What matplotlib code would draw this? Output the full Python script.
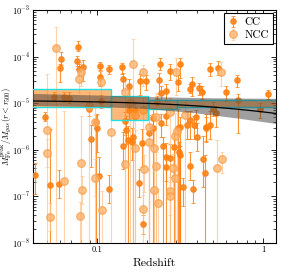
import numpy as np
import matplotlib
matplotlib.use("Agg")
import matplotlib.pyplot as plt
from matplotlib.patches import Rectangle

plt.rcParams['mathtext.fontset'] = 'cm'
plt.rcParams['font.family'] = 'serif'
plt.rcParams['font.serif'] = ['cmr10', 'DejaVu Serif']
plt.rcParams['axes.formatter.use_mathtext'] = True

# ---------------- data ----------------
cc_z = [0.0604, 0.0596, 0.0768, 0.0754, 0.0779, 0.0823, 0.1047, 0.1038, 0.1181, 0.1415,
        0.1435, 0.1566, 0.1825, 0.1967, 0.0548, 0.0632, 0.0675, 0.1062, 0.0891, 0.0484,
        0.0982, 0.1476, 0.1566, 0.168, 0.2178, 0.239, 0.2367, 0.2424, 0.261, 0.2746,
        0.3182, 0.3082, 0.3627, 0.3759, 0.432, 0.4088, 0.4808, 0.5395, 0.6003, 0.6997,
        1.081, 0.959, 0.7096, 0.2312, 0.5012, 0.5205, 0.4567, 0.3627, 0.3155, 0.26,
        0.2443, 0.3975, 0.3834, 0.0518, 0.0421, 0.059, 0.0924, 0.1, 0.1028, 0.1177,
        0.1435, 0.1502, 0.1538, 0.162, 0.1649, 0.1876, 0.2051, 0.2178, 0.1793, 0.1895,
        0.2502, 0.262, 0.277, 0.262, 0.2904, 0.3069, 0.3139, 0.3182, 0.3304, 0.3627,
        0.3796, 0.403, 0.4362, 0.4467, 0.4567, 0.4787, 0.3507]
cc_y = [8.88e-5, 5.61e-5, 1.63e-4, 8.17e-5, 5.34e-5, 5.89e-5, 6.19e-5, 3.71e-5, 5.34e-5, 5.89e-5,
        3.36e-5, 2.31e-5, 2.99e-5, 2.99e-5, 1.38e-5, 1.36e-5, 1.31e-5, 1.13e-5, 7.51e-6, 5.13e-6,
        3.89e-6, 4.15e-6, 7.14e-6, 7.14e-6, 4.89e-6, 6.94e-5, 3.15e-5, 1.63e-5, 1.80e-5, 4.98e-5,
        6.94e-5, 2.85e-5, 2.05e-5, 2.58e-5, 1.74e-5, 2.09e-5, 5.5e-5, 5.61e-5, 1.74e-5, 3.10e-5,
        1.55e-5, 7.51e-6, 1.17e-5, 1.13e-5, 7.4e-6, 6.25e-6, 3.13e-6, 4.36e-6, 3.13e-6, 5.31e-6,
        3.71e-6, 5.13e-6, 3.41e-6, 1.76e-7, 2.88e-7, 1.85e-7, 1.68e-6, 2.89e-6, 2.78e-7, 1.44e-7,
        1.22e-6, 2.66e-6, 1.62e-6, 1.49e-6, 1.91e-6, 1.38e-6, 2.26e-6, 2.98e-6, 1.97e-7, 2.52e-8,
        1.21e-6, 6.9e-7, 6.57e-7, 4.34e-7, 1.13e-6, 2.98e-6, 9.1e-7, 7.73e-7, 1.57e-7, 4.49e-7,
        1.42e-7, 1.85e-6, 6.25e-7, 3.13e-7, 2.98e-6, 3.41e-6, 3.41e-6]
# errors in dex (upper, lower); lower of 5 means the bar reaches the bottom
cc_up = [0.14, 0.1, 0.13, 0.1, 0.12, 0.15, 0.1, 0.15, 0.1, 0.1,
         0.12, 0.15, 0.15, 0.12, 0.1, 0.1, 0.12, 0.12, 0.15, 0.1,
         0.15, 0.2, 0.15, 0.15, 0.2, 0.12, 0.15, 0.15, 0.15, 0.15,
         0.12, 0.15, 0.1, 0.15, 0.12, 0.12, 0.12, 0.15, 0.12, 0.12,
         0.1, 0.12, 0.12, 0.1, 0.15, 0.15, 0.2, 0.2, 0.2, 0.15,
         0.2, 0.15, 0.2, 1.2, 0.25, 0.3, 0.3, 0.3, 0.4, 0.3,
         0.3, 0.3, 0.3, 0.3, 0.4, 0.3, 0.4, 0.3, 0.3, 0.2,
         0.2, 0.3, 0.3, 0.2, 0.3, 0.4, 0.2, 0.2, 0.2, 0.3,
         0.2, 0.3, 0.5, 0.4, 0.3, 0.3, 0.3]
cc_lo = [0.12, 0.3, 0.1, 0.12, 0.12, 0.3, 0.1, 0.2, 0.1, 0.15,
         0.25, 0.2, 0.3, 0.2, 0.1, 0.1, 0.12, 0.15, 0.15, 0.1,
         5, 0.3, 0.2, 0.2, 5, 0.12, 0.3, 0.15, 0.2, 0.2,
         0.3, 0.2, 0.1, 0.25, 0.15, 0.15, 0.15, 0.15, 0.2, 0.15,
         0.1, 0.2, 0.7, 0.1, 0.15, 0.3, 0.3, 0.4, 5, 0.2,
         0.3, 0.25, 0.3, 5, 0.4, 0.3, 0.6, 0.5, 5, 0.3,
         0.5, 0.3, 5, 0.4, 5, 0.5, 5, 0.4, 0.3, 0.2,
         5, 5, 5, 0.3, 5, 5, 5, 5, 0.4, 0.3,
         0.3, 0.3, 0.6, 5, 0.3, 0.3, 0.3]

ncc_z = [0.0568, 0.0779, 0.0804, 0.1053, 0.147, 0.1656, 0.1903, 0.0891, 0.0969, 0.1575,
         0.1703, 0.1895, 0.5579, 0.2985, 0.3383, 0.2261, 0.2746, 0.0499, 0.0499, 0.0518,
         0.0632, 0.0797, 0.0786, 0.0812, 0.0977, 0.1072, 0.121, 0.147, 0.1703, 0.2051,
         0.206, 0.1922, 0.1895, 0.2199, 0.2199, 0.228, 0.2876, 0.2969, 0.3041, 0.2957,
         0.2746, 0.2746, 0.2324, 0.5296, 0.5703]
ncc_y = [1.55e-4, 3.31e-5, 4.74e-5, 2.81e-5, 1.71e-5, 6.84e-5, 4.67e-5, 8.84e-6, 3.89e-6, 9.95e-6,
         5.5e-6, 7.14e-6, 4.74e-5, 4.67e-5, 5.58e-6, 5.13e-6, 6.57e-6, 2.66e-6, 8.67e-7, 3.66e-8,
         2.14e-7, 5.29e-7, 3.79e-8, 1.37e-7, 2.52e-7, 5.11e-8, 2.45e-6, 5.03e-7, 1.08e-6, 1.45e-6,
         3.13e-6, 3.87e-7, 5.37e-8, 1.37e-7, 1.11e-6, 4.56e-7, 4.13e-7, 1.98e-6, 2.57e-6, 2.45e-7,
         1.32e-7, 1.02e-7, 7.33e-8, 4.13e-7, 6.35e-7]
ncc_up = [0.44, 0.2, 0.2, 0.25, 0.3, 0.55, 0.15, 0.3, 0.3, 0.3,
          0.3, 0.3, 0.2, 0.3, 0.3, 0.5, 0.3, 1.2, 0.3, 0.3,
          1.5, 1.0, 0.3, 0.3, 0.4, 0.4, 0.6, 0.4, 0.4, 0.4,
          0.5, 0.3, 0.3, 0.4, 0.4, 0.3, 0.3, 0.5, 0.5, 0.3,
          0.3, 0.3, 0.3, 0.6, 0.15]
ncc_lo = [5, 0.3, 0.3, 0.5, 5, 5, 0.3, 5, 5, 5,
          5, 5, 0.3, 0.5, 5, 5, 5, 5, 0.3, 0.3,
          5, 5, 5, 0.3, 0.4, 5, 5, 5, 5, 5,
          5, 0.5, 0.3, 5, 5, 5, 0.5, 5, 5, 5,
          5, 0.4, 5, 5, 0.3]

# binned means (edges in redshift, lower/upper of box)
bin_edges = [0.04, 0.122, 0.204, 0.303, 1.25]
bin_low = [8.4e-6, 4.36e-6, 7.5e-6, 8.4e-6]
bin_high = [2.02e-5, 1.45e-5, 1.17e-5, 1.19e-5]

# best fit  y = A (1+z)^B and its confidence band
fit_A = 1.152e-5
fit_B = -0.825
band_z = [0.041, 0.1, 0.2, 0.4, 0.7, 1.2]
band_hi = [1.615e-5, 1.50e-5, 1.39e-5, 1.32e-5, 1.29e-5, 1.27e-5]
band_lo = [8.93e-6, 8.5e-6, 7.69e-6, 6.16e-6, 4.81e-6, 3.67e-6]

xticks = [0.1, 1]
xticklabels = ['0.1', '1']

# ---------------- plot ----------------
def yerr(y, up, lo):
    y = np.asarray(y); up = np.asarray(up); lo = np.asarray(lo)
    return [y - y * 10 ** (-lo), y * 10 ** up - y]

fig = plt.figure(figsize=(2.93, 2.76), dpi=100)
ax = fig.add_axes([0.1126, 0.1196, 0.8294, 0.8442])
ax.set_xscale('log')
ax.set_yscale('log')

orange = '#ff7f0e'
ax.errorbar(cc_z, cc_y, yerr=yerr(cc_y, cc_up, cc_lo), fmt='o', color=orange,
            ms=3.8, mec=orange, ecolor=orange, elinewidth=0.8, capsize=1.3,
            capthick=0.6, alpha=0.85, label='CC', zorder=3)
ax.errorbar(ncc_z, ncc_y, yerr=yerr(ncc_y, ncc_up, ncc_lo), fmt='o', color=orange,
            ms=5.4, mfc='#ffb066', mec='#f5a050', ecolor='#ffc48e', elinewidth=0.8,
            capsize=1.3, capthick=0.6, alpha=0.75, label='NCC', zorder=3)

for i in range(len(bin_low)):
    ax.add_patch(Rectangle((bin_edges[i], bin_low[i]), bin_edges[i + 1] - bin_edges[i],
                           bin_high[i] - bin_low[i], facecolor=orange, alpha=0.55,
                           edgecolor='none', zorder=4))
    ax.add_patch(Rectangle((bin_edges[i], bin_low[i]), bin_edges[i + 1] - bin_edges[i],
                           bin_high[i] - bin_low[i], facecolor='none',
                           edgecolor='#22dede', lw=1.0, zorder=5))

zz = np.geomspace(0.04, 1.25, 100)
ax.fill_between(band_z, band_lo, band_hi, color='#404040', alpha=0.5, lw=0, zorder=5)
ax.plot(zz, fit_A * (1 + zz) ** fit_B, color='black', lw=0.9, zorder=6)

ax.set_xlim(0.041, 1.2)
ax.set_ylim(1e-8, 1e-3)
ax.set_xticks(xticks)
ax.set_xticklabels(xticklabels)
ax.tick_params(which='both', direction='in', top=True, right=True, labelsize=6)
ax.tick_params(which='major', length=3.5, width=0.6, pad=2.0)
ax.tick_params(which='minor', length=2, width=0.5)
for s in ax.spines.values():
    s.set_linewidth(0.8)

ax.set_xlabel('Redshift', fontsize=8.5, labelpad=3)
ax.set_ylabel(r'$M_{\rm Fe}^{\rm peak}/M_{gas}(r<r_{500})$', fontsize=6.2)
ax.yaxis.set_label_coords(-0.08, 0.5)

leg = ax.legend(loc='upper right', fontsize=8, frameon=True, fancybox=False,
                framealpha=1, edgecolor='black', handlelength=1.0, borderpad=0.35,
                labelspacing=0.3, handletextpad=0.5, borderaxespad=0.3)
leg.get_frame().set_linewidth(0.8)

fig.savefig('out.png', dpi=100)
